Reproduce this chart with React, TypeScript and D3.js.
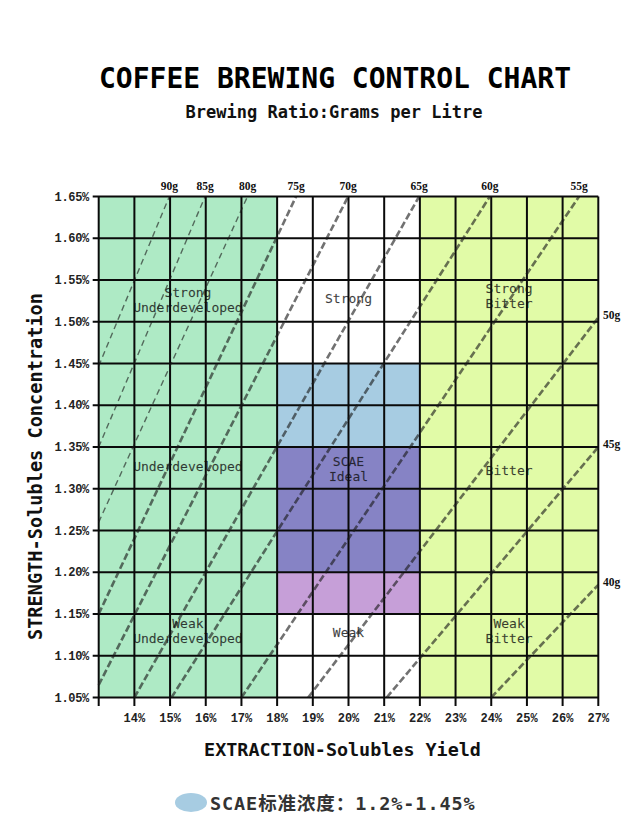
import React from 'react';
import * as d3 from 'd3';

// ---------- data ----------
const extractionTicks = [13, 14, 15, 16, 17, 18, 19, 20, 21, 22, 23, 24, 25, 26, 27];
const extractionTickLabels = ['', '14%', '15%', '16%', '17%', '18%', '19%', '20%', '21%', '22%', '23%', '24%', '25%', '26%', '27%'];
const strengthTicks = [1.05, 1.1, 1.15, 1.2, 1.25, 1.3, 1.35, 1.4, 1.45, 1.5, 1.55, 1.6, 1.65];
const strengthTickLabels = ['1.05%', '1.10%', '1.15%', '1.20%', '1.25%', '1.30%', '1.35%', '1.40%', '1.45%', '1.50%', '1.55%', '1.60%', '1.65%'];

// brewing ratio lines (grams per litre), endpoints (EY %, TDS %)
const ratioLabels = ['90g', '85g', '80g', '75g', '70g', '65g', '60g', '55g', '50g', '45g', '40g'];
const ratioGrams = [90, 85, 80, 75, 70, 65, 60, 55, 50, 45, 40];
const lineStartEY = [13, 13, 13, 13, 13, 14.0, 15.04, 17.0, 18.87, 21.07, 24.0];
const lineStartTDS = [1.447, 1.35, 1.26, 1.15, 1.065, 1.05, 1.05, 1.05, 1.05, 1.05, 1.05];
const lineEndEY = [14.98, 15.98, 17.17, 18.53, 19.99, 21.98, 23.96, 26.46, 27, 27, 27];
const lineEndTDS = [1.65, 1.65, 1.65, 1.65, 1.65, 1.65, 1.65, 1.65, 1.505, 1.35, 1.185];

// zones
const zoneKeys = ['under', 'mid', 'bitter', 'scaeHigh', 'scaeIdeal', 'scaeLow'];
const zoneEY0 = [13, 18, 22, 18, 18, 18];
const zoneEY1 = [18, 22, 27, 22, 22, 22];
const zoneTDS0 = [1.05, 1.05, 1.05, 1.35, 1.2, 1.15];
const zoneTDS1 = [1.65, 1.65, 1.65, 1.45, 1.35, 1.2];

// region labels
const regionLabelLines = [
  ['Strong', 'Underdeveloped'], ['Strong'], ['Strong', 'Bitter'],
  ['Underdeveloped'], ['SCAE', 'Ideal'], ['Bitter'],
  ['Weak', 'Underdeveloped'], ['Weak'], ['Weak', 'Bitter'],
];
const regionLabelEY = [15.5, 20, 24.5, 15.5, 20, 24.5, 15.5, 20, 24.5];
const regionLabelTDS = [1.526, 1.528, 1.531, 1.327, 1.324, 1.322, 1.13, 1.128, 1.13];

const titleText = 'COFFEE BREWING CONTROL CHART';
const subtitleText = 'Brewing Ratio:Grams per Litre';
const xTitle = 'EXTRACTION-Solubles Yield';
const yTitle = 'STRENGTH-Solubles Concentration';
const legendText = 'SCAE标准浓度：1.2%-1.45%';

// ---------- styles ----------
const zoneColors: Record<string, string> = {
  under: '#aeeac5',
  mid: '#ffffff',
  bitter: '#e1fba7',
  scaeHigh: '#a7cce2',
  scaeIdeal: '#8683c5',
  scaeLow: '#c69fd8',
};
const MONO = "'DejaVu Sans Mono', monospace";
const TICK = "'Liberation Mono', monospace";
const SERIF = "'Liberation Serif', serif";

export default function App() {
  const W = 640, H = 814;
  const x = d3.scaleLinear().domain([13, 27]).range([98.7, 598.3]);
  const y = d3.scaleLinear().domain([1.05, 1.65]).range([697.5, 196.5]);
  const line = d3.line<[number, number]>().x(d => x(d[0])).y(d => y(d[1]));

  return (
    <svg width={W} height={H} viewBox={`0 0 ${W} ${H}`}
      style={{ position: 'absolute', left: 0, top: 0, background: '#fff' }}>
      <rect x={0} y={0} width={W} height={H} fill="#fff" />
      {/* title */}
      <text x={335} y={88} textAnchor="middle" fontFamily={MONO} fontWeight="bold" fontSize={28} fill="#000">{titleText}</text>
      <text x={334} y={118} textAnchor="middle" fontFamily={MONO} fontWeight="bold" fontSize={17} fill="#111">{subtitleText}</text>

      {/* zones */}
      {zoneKeys.map((k, i) => (
        <rect key={k} x={x(zoneEY0[i])} y={y(zoneTDS1[i])}
          width={x(zoneEY1[i]) - x(zoneEY0[i])} height={y(zoneTDS0[i]) - y(zoneTDS1[i])}
          fill={zoneColors[k]} />
      ))}

      {/* region labels */}
      {regionLabelLines.map((lines, i) => (
        <g key={'rl' + i}>
          {lines.map((t, j) => (
            <text key={j} x={x(regionLabelEY[i])}
              y={y(regionLabelTDS[i]) + (j - (lines.length - 1) / 2) * 15 + 4.5}
              textAnchor="middle" fontFamily={MONO} fontSize={13} fill="#111" fillOpacity={0.8}
              stroke="#111" strokeOpacity={0.35} strokeWidth={0.3}>{t}</text>
          ))}
        </g>
      ))}

      {/* grid */}
      {extractionTicks.map(v => (
        <line key={'gx' + v} x1={x(v)} x2={x(v)} y1={y(1.65)} y2={y(1.05) + 8.5} stroke="#0a0a0a" strokeWidth={2} />
      ))}
      {strengthTicks.map(v => (
        <line key={'gy' + v} x1={x(13) - 6} x2={x(27)} y1={y(v)} y2={y(v)} stroke="#0a0a0a" strokeWidth={2} />
      ))}

      {/* ratio lines */}
      {ratioLabels.map((lab, i) => {
        const thin = ratioGrams[i] >= 80;
        return (
          <path key={'rl-' + lab}
            d={line([[lineStartEY[i], lineStartTDS[i]], [lineEndEY[i], lineEndTDS[i]]]) || ''}
            fill="none" stroke="#1a1a1a" strokeOpacity={0.62}
            strokeWidth={thin ? 1.4 : 2.6} strokeDasharray={thin ? '6,4' : '7,3'} />
        );
      })}

      {/* ratio labels */}
      {ratioLabels.map((lab, i) => {
        const onTop = lineEndTDS[i] >= 1.65;
        return onTop ? (
          <text key={'lab' + lab} x={x(lineEndEY[i])} y={189.5} textAnchor="middle"
            fontFamily={SERIF} fontWeight="bold" fontSize={11.5} fill="#111">{lab}</text>
        ) : (
          <text key={'lab' + lab} x={603} y={y(lineEndTDS[i]) + 1} textAnchor="start"
            fontFamily={SERIF} fontWeight="bold" fontSize={11.5} fill="#111">{lab}</text>
        );
      })}

      {/* tick labels */}
      {extractionTicks.map((v, i) => (
        <text key={'xt' + v} x={x(v)} y={722} textAnchor="middle" fontFamily={TICK} fontWeight="bold"
          fontSize={12} fill="#222">{extractionTickLabels[i]}</text>
      ))}
      {strengthTicks.map((v, i) => (
        <text key={'yt' + v} x={89} y={y(v) + 4} textAnchor="end" fontFamily={TICK} fontWeight="bold"
          fontSize={12} letterSpacing={-0.3} fill="#222">{strengthTickLabels[i]}</text>
      ))}

      {/* axis titles */}
      <text x={342.5} y={756} textAnchor="middle" fontFamily={MONO} fontWeight="bold" fontSize={18.4} fill="#111">{xTitle}</text>
      <text transform="translate(42,466.5) rotate(-90)" textAnchor="middle" fontFamily={MONO} fontWeight="bold" fontSize={18.6} fill="#111">{yTitle}</text>

      {/* legend */}
      <ellipse cx={191} cy={802.5} rx={16} ry={9.5} fill={zoneColors.scaeHigh} />
      <text x={210} y={809.5} fontFamily={`${MONO}, 'Noto Sans CJK SC'`} fontWeight="bold" fontSize={18.5}
        letterSpacing={0.9} fill="#333">{legendText}</text>
    </svg>
  );
}
